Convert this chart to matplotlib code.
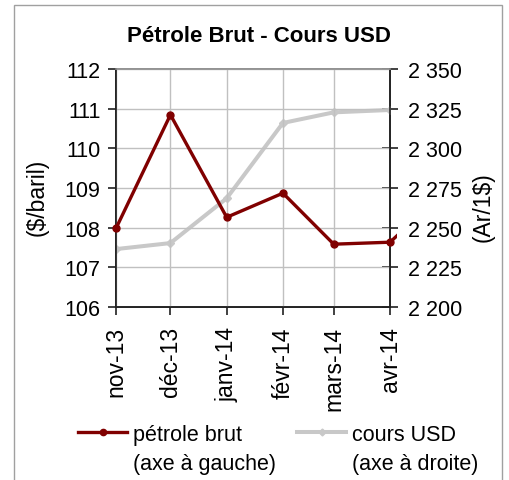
import numpy as np
import matplotlib
matplotlib.use('Agg')
import matplotlib.pyplot as plt
import matplotlib.dates as mdates
from matplotlib.ticker import FixedLocator, FuncFormatter
from matplotlib.patches import Rectangle
from matplotlib.lines import Line2D

plt.rcParams.update({
    "font.family": ["Liberation Sans", "DejaVu Sans"],
})

# data
months = np.array(["2013-11-01", "2013-12-01", "2014-01-01", "2014-02-01",
                   "2014-03-01", "2014-04-01"], dtype="datetime64[D]")
month_labels = ["nov-13", "déc-13", "janv-14", "févr-14", "mars-14", "avr-14"]
# crude oil has one more point (May) cut off by the plot edge
oil_months = np.array(["2013-11-01", "2013-12-01", "2014-01-01", "2014-02-01",
                       "2014-03-01", "2014-04-01", "2014-05-01"], dtype="datetime64[D]")
oil_price = [107.98, 110.85, 108.26, 108.87, 107.58, 107.63, 108.9]
usd_rate = [2236.4, 2240.2, 2268.5, 2316.1, 2322.8, 2324.3]

left_ticks = [106, 107, 108, 109, 110, 111, 112]
right_ticks = [2200, 2225, 2250, 2275, 2300, 2325, 2350]

RED = "#800000"
GREY = "#c8c8c8"
FS = 15.5      # horizontal text
FS_ROT = 16.5  # rotated text

fig = plt.figure(figsize=(5.09, 4.81), dpi=100)
ax = fig.add_axes([116 / 509, 1 - 307.7 / 481, 274 / 509, 237.4 / 481])
ax2 = ax.twinx()

# outer chart frame
fig.add_artist(Rectangle((14 / 509, -0.05), 488 / 509, 1.05 - 6 / 481,
                         transform=fig.transFigure, fill=False,
                         edgecolor="#a0a0a0", linewidth=1.0))

ax.set_zorder(ax2.get_zorder() + 1)
ax.patch.set_visible(False)

l2, = ax2.plot(months, usd_rate, color=GREY, linewidth=2.9, marker="D",
               markersize=4.5, zorder=3)
l1, = ax.plot(oil_months, oil_price, color=RED, linewidth=2.4, marker="o",
              markersize=5, zorder=3)
# Excel lets the line run a few pixels past the plot edge
clip = Rectangle((-0.02, -0.02), 1.045, 1.04, transform=ax.transAxes)
l1.set_clip_path(clip)

ax.set_xlim(months[0], months[-1])
ax.set_ylim(106, 112)
ax2.set_ylim(2200, 2350)

ax.xaxis.set_major_locator(FixedLocator(mdates.date2num(months)))
ax.set_xticklabels(month_labels, rotation=90, fontsize=FS_ROT, va="top")
ax.set_yticks(left_ticks)
ax.set_yticklabels([str(t) for t in left_ticks], fontsize=FS)
ax2.set_yticks(right_ticks)
ax2.yaxis.set_major_formatter(FuncFormatter(lambda v, p: f"{int(v):,}".replace(",", " ")))
ax2.tick_params(axis="y", labelsize=FS)

ax.grid(True, color="#c0c0c0", linewidth=1.0)
ax.set_axisbelow(True)

for a in (ax, ax2):
    a.spines["top"].set_color("#909090")
    a.spines["left"].set_color("#202020")
    a.spines["right"].set_color("#202020")
    a.spines["bottom"].set_color("#202020")
    for s in a.spines.values():
        s.set_linewidth(1.2)

ax.tick_params(axis="y", direction="out", length=6, width=1.2, color="#202020", pad=5)
ax.tick_params(axis="x", direction="out", length=6, width=1.2, color="#202020", pad=8)
ax2.tick_params(axis="y", direction="inout", length=12, width=1.2, color="#202020", pad=7)

ax.set_ylabel("($/baril)", fontsize=FS_ROT)
ax2.set_ylabel("(Ar/1$)", fontsize=FS_ROT)
ax.yaxis.set_label_coords(-0.288, 0.466)
ax.yaxis.label.set_verticalalignment("center")
ax2.yaxis.set_label_coords(1.339, 0.424)
ax2.yaxis.label.set_verticalalignment("center")

fig.suptitle("Pétrole Brut - Cours USD", x=259 / 509, y=1 - 37 / 481,
             va="center", fontsize=16, fontweight="bold")

h1 = Line2D([], [], color=RED, linewidth=2.4, marker="o", markersize=4.5)
h2 = Line2D([], [], color=GREY, linewidth=2.9, marker="D", markersize=3.5)
blank = Line2D([], [], linestyle="none", marker="none")
fig.legend([h1, blank, h2, blank],
           ["pétrole brut", "(axe à gauche)", "cours USD", "(axe à droite)"],
           loc="upper left", bbox_to_anchor=(78 / 509, 1 - 425 / 481), ncol=2,
           frameon=False, fontsize=FS, handlelength=2.28, handletextpad=0.28,
           columnspacing=0.97, labelspacing=0.39, borderaxespad=0, borderpad=0)

fig.savefig("out.png", dpi=100)
